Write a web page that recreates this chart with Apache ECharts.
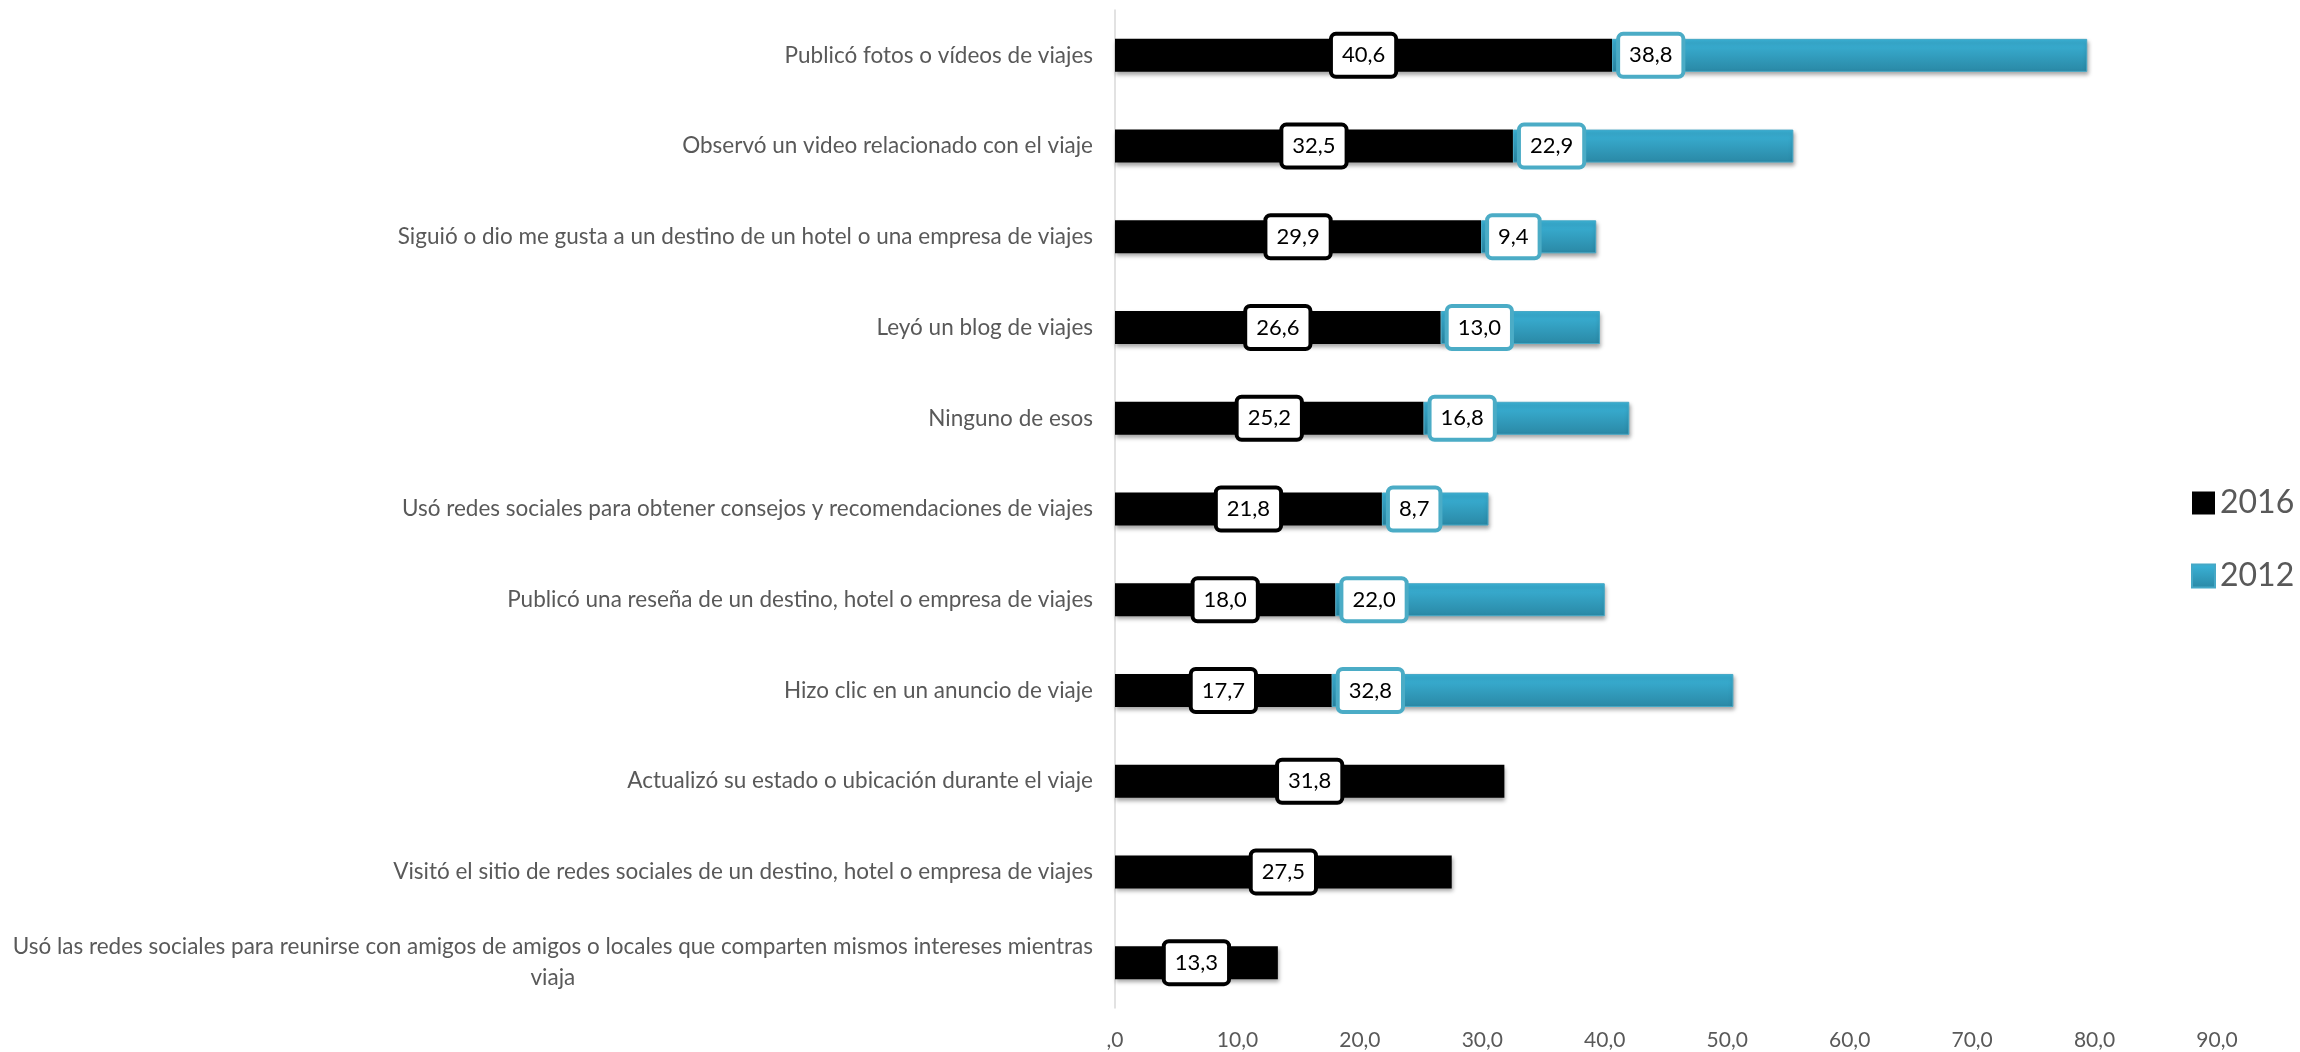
<!DOCTYPE html>
<html>
<head>
<meta charset="utf-8">
<script src="https://cdn.jsdelivr.net/npm/echarts@6/dist/echarts.min.js"></script>
<style>
  html, body { margin: 0; padding: 0; background: #ffffff; }
  #chart { width: 2300px; height: 1052px; }
</style>
</head>
<body>
<div id="chart"></div>
<script>
// Activities on social networks related to travel, by year (%)
const categories = [
  'Publicó fotos o vídeos de viajes',
  'Observó un video relacionado con el viaje',
  'Siguió o dio me gusta a un destino de un hotel o una empresa de viajes',
  'Leyó un blog de viajes',
  'Ninguno de esos',
  'Usó redes sociales para obtener consejos y recomendaciones de viajes',
  'Publicó una reseña de un destino, hotel o empresa de viajes',
  'Hizo clic en un anuncio de viaje',
  'Actualizó su estado o ubicación durante el viaje',
  'Visitó el sitio de redes sociales de un destino, hotel o empresa de viajes',
  'Usó las redes sociales para reunirse con amigos de amigos o locales que comparten mismos intereses mientras\nviaja'
];
const seriesNames = ['2016', '2012'];
const values2016 = [40.6, 32.5, 29.9, 26.6, 25.2, 21.8, 18.0, 17.7, 31.8, 27.5, 13.3];
const values2012 = [38.8, 22.9, 9.4, 13.0, 16.8, 8.7, 22.0, 32.8, null, null, null];
const axisMin = 0;
const axisMax = 90;
const axisStep = 10;

const FONT = 'Lato, "Open Sans", sans-serif';
const GREY = '#595959';

const fmt = v => (v === 0 ? ',0' : v.toFixed(1).replace('.', ','));

const blueFill = new echarts.graphic.LinearGradient(0, 0, 0, 1, [
  { offset: 0, color: '#3bb4d9' },
  { offset: 1, color: '#2a88a5' }
]);

const barShadow = {
  shadowColor: 'rgba(0,0,0,0.35)',
  shadowBlur: 4,
  shadowOffsetX: 1,
  shadowOffsetY: 3
};

const valueLabel = {
  show: true,
  fontFamily: FONT,
  fontSize: 22,
  lineHeight: 24,
  color: '#000000',
  backgroundColor: '#ffffff',
  borderWidth: 4,
  borderRadius: 3,
  padding: [8, 9, 7, 9]
};

const chart = echarts.init(document.getElementById('chart'), null, { renderer: 'canvas' });

chart.setOption({
  backgroundColor: '#ffffff',
  animation: false,
  textStyle: { fontFamily: FONT },
  grid: { left: 1115, right: 83, top: 10, bottom: 44, containLabel: false },
  legend: {
    orient: 'vertical',
    left: 2186,
    top: 478,
    itemWidth: 23,
    itemHeight: 23,
    itemGap: 33,
    icon: 'rect',
    data: seriesNames,
    textStyle: { fontFamily: FONT, fontSize: 32, color: GREY, lineHeight: 40 }
  },
  xAxis: {
    type: 'value',
    min: axisMin,
    max: axisMax,
    interval: axisStep,
    axisLine: { show: false },
    axisTick: { show: false },
    splitLine: { show: false },
    axisLabel: {
      formatter: fmt,
      fontFamily: FONT,
      fontSize: 21,
      color: GREY,
      margin: 22
    }
  },
  yAxis: {
    type: 'category',
    inverse: true,
    data: categories,
    axisLine: { show: true, lineStyle: { color: '#d9d9d9', width: 1.5 } },
    axisTick: { show: false },
    axisLabel: {
      margin: 22,
      fontFamily: FONT,
      fontSize: 22.5,
      color: GREY,
      align: 'right',
      formatter: function (v) {
        const parts = v.split('\n');
        if (parts.length === 1) return '{l|' + v + '}';
        return '{l|' + parts[0] + '}\n{c|' + parts[1] + '}';
      },
      rich: {
        l: { fontFamily: FONT, fontSize: 22.5, color: GREY, lineHeight: 31 },
        c: { fontFamily: FONT, fontSize: 22.5, color: GREY, lineHeight: 31, align: 'center' }
      }
    }
  },
  series: [
    {
      name: seriesNames[0],
      type: 'bar',
      stack: 'total',
      barWidth: 33,
      data: values2016,
      itemStyle: Object.assign({ color: '#000000' }, barShadow),
      label: Object.assign({}, valueLabel, {
        position: 'inside',
        borderColor: '#000000',
        formatter: p => fmt(p.value)
      })
    },
    {
      name: seriesNames[1],
      type: 'bar',
      stack: 'total',
      barWidth: 33,
      data: values2012,
      itemStyle: Object.assign({ color: blueFill, borderColor: '#45a8c6', borderWidth: 1 }, barShadow),
      label: Object.assign({}, valueLabel, {
        position: 'insideLeft',
        distance: 8,
        borderColor: '#4bacc6',
        formatter: p => (p.value == null ? '' : fmt(p.value))
      })
    }
  ]
});
</script>
</body>
</html>
